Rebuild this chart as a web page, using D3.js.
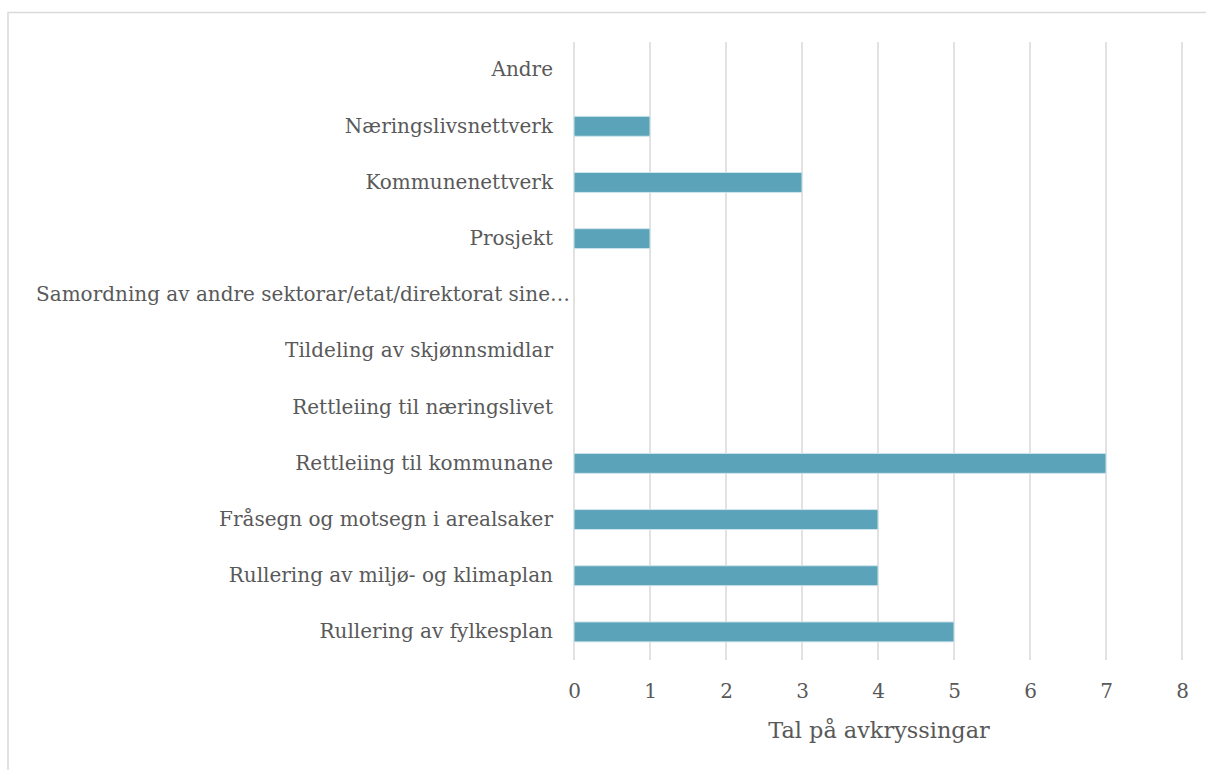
<!DOCTYPE html>
<html><head><meta charset="utf-8">
<script src="https://cdn.jsdelivr.net/npm/d3@7"></script>
<style>body{margin:0;background:#fff}svg{display:block}</style>
</head><body>
<svg id="c" width="1206" height="770"></svg>
<script>
const categories = ["Andre","Næringslivsnettverk","Kommunenettverk","Prosjekt","Samordning av andre sektorar/etat/direktorat sine…","Tildeling av skjønnsmidlar","Rettleiing til næringslivet","Rettleiing til kommunane","Fråsegn og motsegn i arealsaker","Rullering av miljø- og klimaplan","Rullering av fylkesplan"];
const values = [0,1,3,1,0,0,0,7,4,4,5];
const xTicks = [0,1,2,3,4,5,6,7,8];
const axisTitle = "Tal på avkryssingar";

const svg = d3.select("#c");
const font = "'DejaVu Serif', serif";
const m = {left:574, right:1182, top:42, bottom:660};
const x = d3.scaleLinear().domain([0,8]).range([m.left,m.right]);
const y = d3.scaleBand().domain(categories).range([m.top,m.bottom]).paddingInner(0.645).paddingOuter(0.3225);

// border
svg.append("rect").attr("x",8).attr("y",12.5).attr("width",1220).attr("height",800)
  .attr("fill","none").attr("stroke","#D9D9D9").attr("stroke-width",1.5);

// gridlines
svg.append("g").selectAll("line").data(xTicks).join("line")
  .attr("x1",d=>x(d)).attr("x2",d=>x(d)).attr("y1",m.top).attr("y2",m.bottom)
  .attr("stroke","#D9D9D9").attr("stroke-width",1.5);

// bars
svg.append("g").selectAll("rect").data(values).join("rect")
  .attr("x",x(0)).attr("y",(d,i)=>y(categories[i]))
  .attr("width",d=>x(d)-x(0)).attr("height",y.bandwidth())
  .attr("fill","#5BA3B9").attr("stroke","#CFE5EC").attr("stroke-width",1)
  .style("display",d=>d>0?null:"none");

// x axis
const xa = svg.append("g").attr("transform",`translate(0,${m.bottom})`)
  .call(d3.axisBottom(x).tickValues(xTicks).tickFormat(d3.format("d")).tickSize(0).tickPadding(24));
xa.select(".domain").remove();
xa.selectAll("text").attr("font-family",font).attr("font-size",20).attr("fill","#595959");

// y labels
const ya = svg.append("g").attr("transform",`translate(${m.left},0)`)
  .call(d3.axisLeft(y).tickSize(0).tickPadding(21));
ya.select(".domain").remove();
ya.selectAll("text").attr("font-family",font).attr("font-size",20).attr("fill","#595959")
  .attr("dx",d=>d.startsWith("Samordning")?17:0);

svg.append("text").attr("x",(m.left+m.right)/2 + 1).attr("y",738).attr("text-anchor","middle")
  .attr("font-family",font).attr("font-size",22.4).attr("fill","#595959").text(axisTitle);
</script>
</body></html>
